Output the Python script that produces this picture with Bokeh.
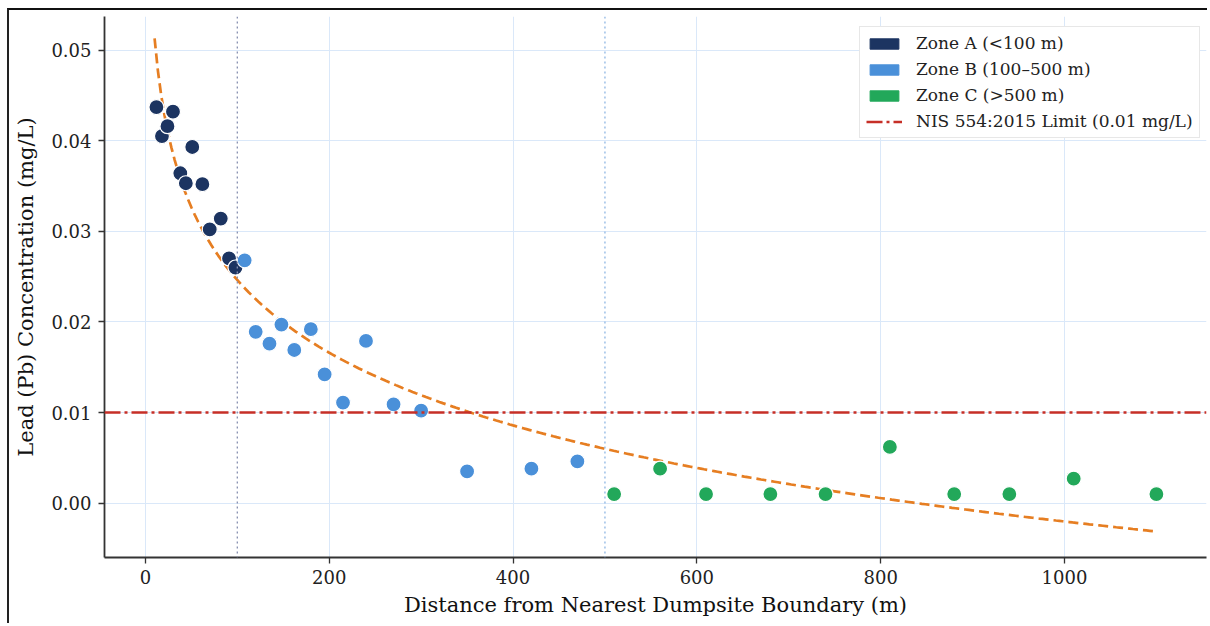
import numpy as np
from bokeh.plotting import figure
from bokeh.models import (Span, Legend, LegendItem, FixedTicker, Range1d,
                          PrintfTickFormatter, ColumnDataSource)
from bokeh.embed import file_html
from bokeh.resources import INLINE

# ---------------- data ----------------
zone_a_dist = [12, 18, 24, 30, 38, 44, 51, 62, 70, 82, 91, 98]
zone_a_pb = [0.0437, 0.0405, 0.0416, 0.0432, 0.0364, 0.0353, 0.0393, 0.0352,
             0.0302, 0.0314, 0.0270, 0.0260]
zone_b_dist = [108, 120, 135, 148, 162, 180, 195, 215, 240, 270, 300, 350, 420, 470]
zone_b_pb = [0.0268, 0.0189, 0.0176, 0.0197, 0.0169, 0.0192, 0.0142, 0.0111,
             0.0179, 0.0109, 0.0102, 0.0035, 0.0038, 0.0046]
zone_c_dist = [510, 560, 610, 680, 740, 810, 880, 940, 1010, 1100]
zone_c_pb = [0.0010, 0.0038, 0.0010, 0.0010, 0.0010, 0.0062, 0.0010, 0.0010,
             0.0027, 0.0010]
limit_value = 0.01
zone_bounds = [100, 500]
curve_start, curve_end = 10, 1100
x_ticks = [0, 200, 400, 600, 800, 1000]
y_ticks = [0.00, 0.01, 0.02, 0.03, 0.04, 0.05]
labels = ["Zone A (<100 m)", "Zone B (100\u2013500 m)", "Zone C (>500 m)",
          "NIS 554:2015 Limit (0.01 mg/L)"]

# logarithmic trend fitted to the data
all_x = np.array(zone_a_dist + zone_b_dist + zone_c_dist, dtype=float)
all_y = np.array(zone_a_pb + zone_b_pb + zone_c_pb, dtype=float)
slope, intercept = np.polyfit(np.log(all_x), all_y, 1)
fit_x = np.linspace(curve_start, curve_end, 300)
fit_y = intercept + slope * np.log(fit_x)

# ---------------- styling ----------------
FONT = "DejaVu Serif"
C_A, C_B, C_C = "#1c3461", "#4a90d9", "#22a85a"
C_LIMIT = "#c62f27"
C_FIT = "#e67e22"
LIMIT_DASH = "16 4 3 4"

p = figure(width=1200, height=615, output_backend="svg", toolbar_location=None,
           x_range=Range1d(-44.5, 1154.5), y_range=Range1d(-0.0060, 0.0537),
           min_border_left=95, min_border_right=3, min_border_top=6,
           min_border_bottom=68)
p.styles = {"margin-left": "7px", "margin-top": "8px",
            "border-left": "2px solid #222", "border-top": "2px solid #111"}
p.outline_line_color = None
p.background_fill_color = "white"

# grid
p.xaxis.ticker = FixedTicker(ticks=x_ticks)
p.yaxis.ticker = FixedTicker(ticks=y_ticks)
p.yaxis.formatter = PrintfTickFormatter(format="%.2f")
for g in (p.xgrid, p.ygrid):
    g.grid_line_color = "#dae8f9"
    g.grid_line_width = 1

# axes
for ax in (p.xaxis, p.yaxis):
    ax.axis_line_color = "#333333"
    ax.axis_line_width = 1.8
    ax.major_tick_line_color = "#333333"
    ax.major_tick_line_width = 1.3
    ax.major_tick_out = 6
    ax.major_tick_in = 0
    ax.minor_tick_out = 0
    ax.minor_tick_in = 0
    ax.major_label_text_font = FONT
    ax.major_label_text_font_size = "18px"
    ax.major_label_text_color = "#222222"
    ax.axis_label_text_font = FONT
    ax.axis_label_text_font_size = "21px"
    ax.axis_label_text_font_style = "normal"
    ax.axis_label_text_color = "#111111"
p.xaxis.axis_label = "Distance from Nearest Dumpsite Boundary (m)"
p.yaxis.axis_label = "Lead (Pb) Concentration (mg/L)"
p.xaxis.axis_label_standoff = 6
p.yaxis.axis_label_standoff = 10
p.xaxis.major_label_standoff = 6
p.yaxis.major_label_standoff = 7

# zone boundaries
p.add_layout(Span(location=zone_bounds[0], dimension="height", line_color="#868fb0",
                  line_dash="2 3", line_width=1.3))
p.add_layout(Span(location=zone_bounds[1], dimension="height", line_color="#8db6e3",
                  line_dash="2 3", line_width=1.3))

# regulatory limit
p.add_layout(Span(location=limit_value, dimension="width", line_color=C_LIMIT,
                  line_dash=LIMIT_DASH, line_width=2.4))

# fitted trend
p.line(fit_x, fit_y, line_color=C_FIT, line_width=2.7, line_dash="10 5")

# scatter points
src_a = ColumnDataSource(dict(x=zone_a_dist, y=zone_a_pb))
src_b = ColumnDataSource(dict(x=zone_b_dist, y=zone_b_pb))
src_c = ColumnDataSource(dict(x=zone_c_dist, y=zone_c_pb))
for src, col in ((src_a, C_A), (src_b, C_B), (src_c, C_C)):
    p.scatter("x", "y", source=src, size=15, fill_color=col, line_color="white",
              line_width=1.2)

# legend proxies (not drawn in the plot area: NaN coordinates)
nan = [float("nan")]
qa = p.quad(left=nan, right=nan, top=nan, bottom=nan, fill_color=C_A, line_color=C_A)
qb = p.quad(left=nan, right=nan, top=nan, bottom=nan, fill_color=C_B, line_color=C_B)
qc = p.quad(left=nan, right=nan, top=nan, bottom=nan, fill_color=C_C, line_color=C_C)
ll = p.line(x=nan + nan, y=nan + nan, line_color=C_LIMIT, line_width=2.4,
            line_dash=LIMIT_DASH)

legend = Legend(items=[LegendItem(label=labels[0], renderers=[qa]),
                       LegendItem(label=labels[1], renderers=[qb]),
                       LegendItem(label=labels[2], renderers=[qc]),
                       LegendItem(label=labels[3], renderers=[ll])],
                location=(755, 419))
legend.label_text_font = FONT
legend.label_text_font_size = "17px"
legend.label_text_color = "#222222"
legend.glyph_width = 36
legend.glyph_height = 13
legend.label_height = 20
legend.label_standoff = 14
legend.spacing = 6
legend.padding = 6
legend.margin = 0
legend.border_line_color = "#d0d0d0"
legend.border_line_width = 1.2
legend.background_fill_alpha = 1.0
p.add_layout(legend)

open("out.html", "w").write(file_html(p, INLINE))
